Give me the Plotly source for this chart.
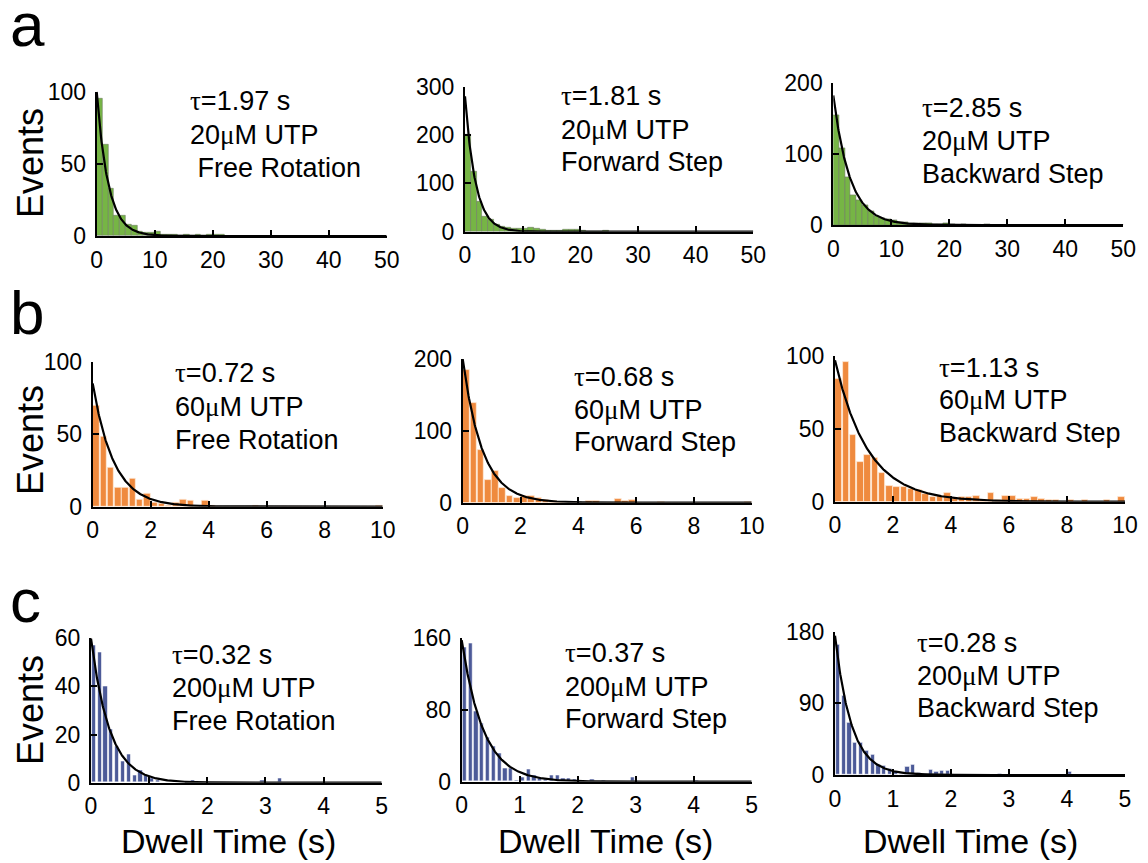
import numpy as np
import plotly.graph_objects as go

# The page body has an 8 px margin: the figure is placed at (8, 8) and sized to
# reach the window edge; reference pixel positions are shifted by that offset.
REF_W, REF_H = 1148, 863
OFF = 8
W, H = REF_W - OFF, REF_H - OFF

# ---------------- data ----------------
rows = ["a", "b", "c"]
concentrations = ["20", "60", "200"]
conditions = ["Free Rotation", "Forward Step", "Backward Step"]
taus = [[1.97, 1.81, 2.85], [0.72, 0.68, 1.13], [0.32, 0.37, 0.28]]
fit_amp = [[100, 280, 183], [85, 200, 97], [60, 158, 175]]

bin_width = [1.0, 0.25, 0.1]
x_max = [50, 10, 5]
x_dtick = [10, 2, 1]
y_max = [[100, 300, 200], [100, 200, 100], [60, 160, 180]]
y_dtick = [[50, 100, 100], [50, 100, 50], [20, 80, 90]]

# row a: 1 s bins
a_free = [95, 63, 33, 14, 14, 8, 7, 3, 2, 2, 3, 1, 1, 1, 0, 1, 0, 1, 0, 1, 1, 1]
a_fwd = [200, 124, 62, 31, 24, 14, 10, 9, 7, 7, 6, 9, 7, 5, 3, 2, 3, 4, 4, 4, 2, 1, 1, 1, 2]
a_bwd = [155, 108, 68, 42, 35, 28, 20, 12, 10, 8, 6, 4, 4, 3, 3, 3, 2, 1, 1, 2, 1, 0, 1, 0, 0, 0, 1]
# row b: 0.25 s bins
b_free = [70, 48, 27, 13, 13, 19, 5, 9, 3, 2, 1, 3, 5, 4, 0, 4, 1, 0, 0, 0, 0, 0, 1,
          0, 0, 0, 0, 0, 0, 0, 0, 0, 0, 0, 0, 0, 0, 0, 0, 1]
b_fwd = [185, 139, 73, 32, 44, 20, 9, 6, 9, 10, 6, 4, 3, 1, 0, 0, 0, 2, 2, 0, 0, 5, 2,
         4, 0, 0, 0, 1, 0, 0, 0, 0, 0, 0, 0, 0, 0, 0, 0, 1]
b_bwd = [84, 96, 46, 27, 32, 30, 20, 11, 10, 10, 9, 8, 5, 3, 4, 6, 2, 3, 3, 4, 1, 6, 1,
         4, 4, 2, 2, 3, 2, 1, 1, 0, 1, 0, 1, 0, 0, 1, 0, 3]
# row c: 0.1 s bins
c_free = [57, 54, 40, 22, 15, 9, 12, 3, 5, 3, 2, 1, 0, 0, 1, 0, 0, 1, 0, 0, 0, 0, 0,
          0, 0, 0, 0, 0, 0, 1, 0, 0, 2]
c_fwd = [150, 154, 78, 65, 50, 39, 32, 15, 15, 2, 5, 14, 7, 4, 3, 7, 7, 4, 4, 3, 2, 0,
         3, 0, 2, 0, 0, 0, 0, 5, 0, 0, 0, 0, 1, 0, 0, 0, 0, 0, 2]
c_bwd = [164, 99, 66, 41, 41, 30, 26, 13, 12, 8, 4, 2, 10, 13, 3, 2, 7, 4, 6, 5, 1, 1,
         0, 1, 0, 0, 1, 0, 2, 1, 0, 0, 0, 0, 0, 0, 0, 0, 0, 0, 4, 1]

counts = [[a_free, a_fwd, a_bwd], [b_free, b_fwd, b_bwd], [c_free, c_fwd, c_bwd]]

# ---------------- style / layout ----------------
bar_colors = ["#76b545", "#ef8a3e", "#4c5a98"]
bar_line = ["rgba(110,120,100,0.7)", "rgba(255,240,225,0.9)", "rgba(255,255,255,0.9)"]
bar_frac = [1.0, 0.92, 0.72]

# axis boxes in reference pixels: (x0, x1, ytop, ybottom)
boxes = [
    [(96.7, 386.7, 91.7, 236.0), (465.0, 753.3, 86.7, 231.7), (833.3, 1123.3, 83.3, 225.0)],
    [(92.7, 382.7, 361.7, 506.7), (462.7, 751.7, 359.0, 502.7), (835.0, 1125.0, 356.0, 501.7)],
    [(91.0, 381.7, 638.3, 782.7), (461.7, 751.7, 638.3, 781.7), (835.0, 1125.0, 631.7, 775.0)],
]
# text block: (left x, center y of line 1, line 2, line 3)
text_pos = [
    [(188, 101, 135, 168), (559, 96, 130, 162), (920, 108, 141, 174)],
    [(173, 373, 407, 440), (572, 377, 410, 442), (937, 368, 400, 433)],
    [(170, 655, 688, 721), (563, 653, 687, 719), (915, 643, 676, 708)],
]
letter_pos = [(8, 24), (8, 312), (8, 600)]
events_pos = [(30, 163), (30, 440), (30, 710)]
dwell_pos = [(228, 841), (605, 841), (970, 841)]

FONT = "Liberation Sans, Arial, sans-serif"
SERIF = "'Liberation Serif', 'DejaVu Serif', serif"


def px(x):
    return (x - OFF) / W


def py(y):
    return 1 - (y - OFF) / H


fig = go.Figure()
layout = dict(
    width=W, height=H, autosize=False,
    margin=dict(l=0, r=0, t=0, b=0, autoexpand=False),
    paper_bgcolor="white", plot_bgcolor="white",
    showlegend=False, font=dict(family=FONT, color="black"),
)
annotations = []

k = 0
for r in range(3):
    for c in range(3):
        k += 1
        xa = "x" if k == 1 else f"x{k}"
        ya = "y" if k == 1 else f"y{k}"
        data = counts[r][c]
        bw = bin_width[r]
        centers = [bw * (i + 0.5) for i in range(len(data))]
        fig.add_trace(go.Bar(
            x=centers, y=data, width=bw * bar_frac[r],
            marker=dict(color=bar_colors[r], line=dict(color=bar_line[r], width=0.8)),
            xaxis=xa, yaxis=ya, hoverinfo="skip",
        ))
        t = np.linspace(0, x_max[r], 600)
        fig.add_trace(go.Scatter(
            x=t, y=fit_amp[r][c] * np.exp(-t / taus[r][c]), mode="lines",
            line=dict(color="black", width=2.2), xaxis=xa, yaxis=ya, hoverinfo="skip",
        ))
        x0, x1, yt, yb = boxes[r][c]
        common = dict(showline=True, linecolor="black", linewidth=2, ticks="inside",
                      ticklen=6, tickwidth=2, tickcolor="black", showgrid=False,
                      zeroline=False, fixedrange=True, automargin=False,
                      tickfont=dict(family=FONT, size=23, color="black"))
        layout["xaxis" if k == 1 else f"xaxis{k}"] = dict(
            domain=[px(x0), px(x1)], anchor=ya, range=[0, x_max[r]],
            tick0=0, dtick=x_dtick[r], ticklabelstandoff=2, **common)
        layout["yaxis" if k == 1 else f"yaxis{k}"] = dict(
            domain=[py(yb), py(yt)], anchor=xa, range=[0, y_max[r][c]],
            tick0=0, dtick=y_dtick[r][c], ticklabelstandoff=4, **common)

        lx, l1, l2, l3 = text_pos[r][c]
        cond = conditions[c]
        if r == 0 and c == 0:
            cond = " " + cond
        lines = [
            f'<span style="font-family:{SERIF}">τ</span>={taus[r][c]:.2f} s',
            f'{concentrations[r]}<span style="font-family:{SERIF}">μ</span>M UTP',
            cond,
        ]
        for txt, yy in zip(lines, (l1, l2, l3)):
            annotations.append(dict(
                text=txt, x=px(lx), y=py(yy), xref="paper", yref="paper",
                xanchor="left", yanchor="middle", showarrow=False,
                font=dict(family=FONT, size=27, color="black")))

for r in range(3):
    lx, ly = letter_pos[r]
    annotations.append(dict(
        text=rows[r], x=px(lx), y=py(ly), xref="paper", yref="paper",
        xanchor="left", yanchor="middle", showarrow=False,
        font=dict(family=FONT, size=62, color="black")))
    ex, ey = events_pos[r]
    annotations.append(dict(
        text="Events", x=px(ex), y=py(ey), xref="paper", yref="paper",
        xanchor="center", yanchor="middle", showarrow=False, textangle=-90,
        font=dict(family=FONT, size=36, color="black")))
    dx, dy = dwell_pos[r]
    annotations.append(dict(
        text="Dwell Time (s)", x=px(dx), y=py(dy), xref="paper", yref="paper",
        xanchor="center", yanchor="middle", showarrow=False,
        font=dict(family=FONT, size=34, color="black")))

layout["annotations"] = annotations
layout["bargap"] = 0
fig.update_layout(**layout)
fig.write_html("out.html")
